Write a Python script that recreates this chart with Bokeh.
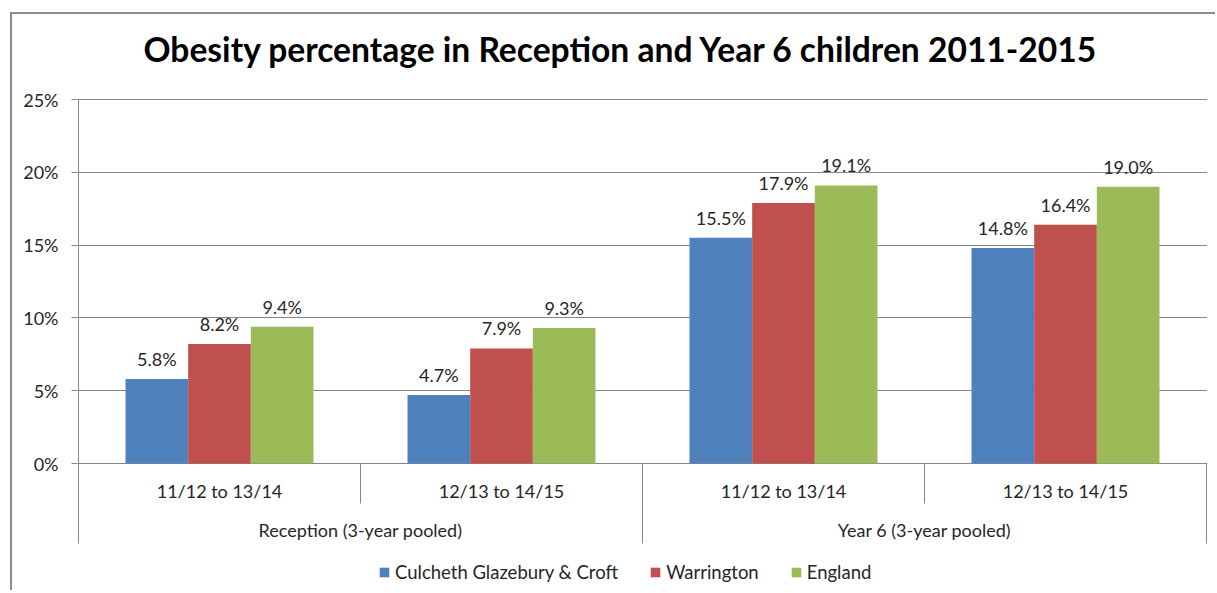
from bokeh.plotting import figure
from bokeh.models import (Range1d, FixedTicker, PrintfTickFormatter, Legend, LegendItem,
                          ColumnDataSource, InlineStyleSheet)
from bokeh.core.properties import value
from bokeh.embed import file_html
from bokeh.resources import INLINE

# ---- data ----
title_text = "Obesity percentage in Reception and Year 6 children 2011-2015"
groups = ["Reception (3-year pooled)", "Year 6 (3-year pooled)"]
periods = ["11/12 to 13/14", "12/13 to 14/15", "11/12 to 13/14", "12/13 to 14/15"]
series_names = ["Culcheth Glazebury & Croft", "Warrington", "England"]
culcheth = [5.8, 4.7, 15.5, 14.8]
warrington = [8.2, 7.9, 17.9, 16.4]
england = [9.4, 9.3, 19.1, 19.0]
series_values = [culcheth, warrington, england]
colors = ["#4F81BD", "#C0504D", "#9BBB59"]
y_ticks = [0, 5, 10, 15, 20, 25]

# ---- layout constants (pixels) ----
W, H = 1215, 590
FONT = "Lato"
FS = "18px"
TXT = "#262626"
GRID = "#868686"
BORDER = "#8c8c8c"
px_per_unit = 364 / 25.0        # 0%..25% spans 364 px
u = 1.0 / px_per_unit            # data units per pixel
frame_top_gap = 1
frame_below_zero = 127           # px from 0% line to frame bottom
xpx = 282.0                      # px per category

p = figure(width=W, height=H, output_backend="svg", toolbar_location=None,
           x_axis_location=None,
           x_range=Range1d(-1 / xpx, len(periods) + 1 / xpx),
           y_range=Range1d(-frame_below_zero * u, 25 + frame_top_gap * u),
           min_border_left=77, min_border_right=8, min_border_top=98, min_border_bottom=0)
# chart-area border (left and top edges) drawn as host background lines
p.stylesheets = [InlineStyleSheet(css=(
    ":host { background: "
    "linear-gradient(%s, %s) 10px 12px / 100%% 2px no-repeat, "
    "linear-gradient(%s, %s) 10px 12px / 2px 100%% no-repeat, white; }"
) % (BORDER, BORDER, BORDER, BORDER))]
p.outline_line_color = None
p.background_fill_color = "white"
p.border_fill_color = None

# title
p.title.text = title_text
p.title.align = "left"
p.title.vertical_align = "top"
p.title.text_font = FONT
p.title.text_font_style = "bold"
p.title.text_font_size = "33.6px"
p.title.text_color = "black"
p.title.standoff = 56
p.title.offset = 66

# y axis
p.yaxis.ticker = FixedTicker(ticks=y_ticks)
p.yaxis.formatter = PrintfTickFormatter(format="%d%%")
p.yaxis.axis_line_color = None
p.yaxis.major_tick_in = 0
p.yaxis.major_tick_out = 6
p.yaxis.major_tick_line_color = GRID
p.yaxis.minor_tick_line_color = None
p.yaxis.major_label_text_font = FONT
p.yaxis.major_label_text_font_size = FS
p.yaxis.major_label_text_color = TXT
p.yaxis.major_label_standoff = 13
p.ygrid.grid_line_color = GRID
p.xgrid.grid_line_color = None

# bars
bw = 1 / 4.5
n = len(periods)
centers = [i + 0.5 for i in range(n)]
renderers = []
for k, (name, vals, col) in enumerate(zip(series_names, series_values, colors)):
    xs = [c + (k - 1) * bw for c in centers]
    src = ColumnDataSource(dict(x=xs, top=vals, lab=["%.1f%%" % v for v in vals]))
    r = p.vbar(x="x", top="top", width=bw, bottom=0, source=src,
               fill_color=col, line_color=None)
    renderers.append(r)
    p.text(x="x", y="top", text="lab", source=src, text_align="center",
           text_baseline="middle", y_offset=-20, text_font=value(FONT),
           text_font_size=FS, text_color=TXT)

# vertical axis line + category separators
sx0, sy0, sx1, sy1 = [0], [25], [0], [-80 * u]
for b in range(1, n + 1):
    long = (b % 2 == 0)
    sx0.append(b); sx1.append(b)
    sy0.append(0); sy1.append(-(80 if long else 40) * u)
p.segment(x0=sx0, y0=sy0, x1=sx1, y1=sy1, line_color=GRID, line_width=1)

# category labels
p.text(x=centers, y=[0] * n, text=periods, text_align="center",
       text_baseline="middle", y_offset=27, text_font=value(FONT),
       text_font_size=FS, text_color=TXT)
gcenters = [1.0, 3.0]
p.text(x=gcenters, y=[0] * len(groups), text=groups, text_align="center",
       text_baseline="middle", y_offset=66, text_font=value(FONT),
       text_font_size=FS, text_color=TXT)

# legend
legend = Legend(items=[LegendItem(label=s, renderers=[r]) for s, r in zip(series_names, renderers)],
                orientation="horizontal", location=(301, 7.5),
                glyph_width=12, glyph_height=12, label_standoff=5, spacing=31,
                label_height=20, padding=0, margin=0, border_line_color=None,
                background_fill_alpha=0, label_text_font=FONT,
                label_text_font_size="18.5px", label_text_color=TXT)
p.add_layout(legend, "center")

open("out.html", "w").write(file_html(p, INLINE))
